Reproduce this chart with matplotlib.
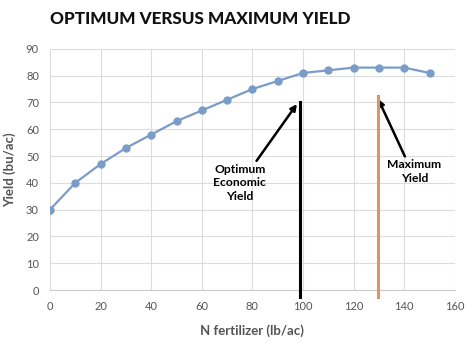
import matplotlib.pyplot as plt

plt.rcParams['font.family'] = ['Lato', 'DejaVu Sans']

# N rate (lb/ac) and yield (bu/ac)
n_rate = [0, 10, 20, 30, 40, 50, 60, 70, 80, 90, 100, 110, 120, 130, 140, 150]
yield_bu = [30, 40, 47, 53, 58, 63, 67, 71, 75, 78, 81, 82, 83, 83, 83, 81]

optimum_n = 99
optimum_top = 70
maximum_n = 129.5
maximum_top = 72.5

fig = plt.figure(figsize=(4.74, 3.5), dpi=100)
ax = fig.add_axes([0.1055, 0.1714, 0.854, 0.689])

ax.plot(n_rate, yield_bu, color='#7a9cc9', lw=1.6, marker='o', ms=5, zorder=3)

# vertical marker lines
ax.plot([optimum_n, optimum_n], [-2.6, optimum_top], color='black', lw=2.2, clip_on=False, zorder=4)
ax.plot([maximum_n, maximum_n], [-2.6, maximum_top], color='#e0935a', lw=2.2, clip_on=False, zorder=4)

ax.annotate('Optimum\nEconomic\nYield', xy=(97.6, 69.4), xytext=(75, 40),
            ha='center', va='center', fontsize=8.7, fontweight='bold', linespacing=1.3,
            arrowprops=dict(arrowstyle='-|>', color='black', lw=1.8, mutation_scale=9,
                            shrinkA=0, shrinkB=0, relpos=(0.78, 1.0)))
ax.annotate('Maximum\nYield', xy=(129.7, 71.3), xytext=(144, 44.2),
            ha='center', va='center', fontsize=8.7, fontweight='bold', linespacing=1.3,
            arrowprops=dict(arrowstyle='-|>', color='black', lw=1.8, mutation_scale=9,
                            shrinkA=0, shrinkB=0, relpos=(0.35, 1.0)))

ax.set_xlim(0, 160)
ax.set_ylim(0, 90)
ax.set_xticks(range(0, 161, 20))
ax.set_yticks(range(0, 91, 10))
ax.grid(True, color='#dcdcdc', lw=0.8)
ax.set_axisbelow(True)
for s in ['top', 'right', 'left']:
    ax.spines[s].set_visible(False)
ax.spines['bottom'].set_color('#cccccc')
ax.tick_params(length=0, labelsize=8, colors='#555555', pad=8)

ax.set_xlabel('N fertilizer (lb/ac)', fontsize=9.5, fontweight='bold', color='#555555', labelpad=9)
ax.set_ylabel('Yield (bu/ac)', fontsize=9.5, fontweight='bold', color='#555555', labelpad=7)

fig.text(0.105, 0.945, 'OPTIMUM VERSUS MAXIMUM YIELD', fontsize=12.3, fontweight='black',
         color='#111111', va='center', ha='left')

fig.savefig('out.png', dpi=100, facecolor='white')
